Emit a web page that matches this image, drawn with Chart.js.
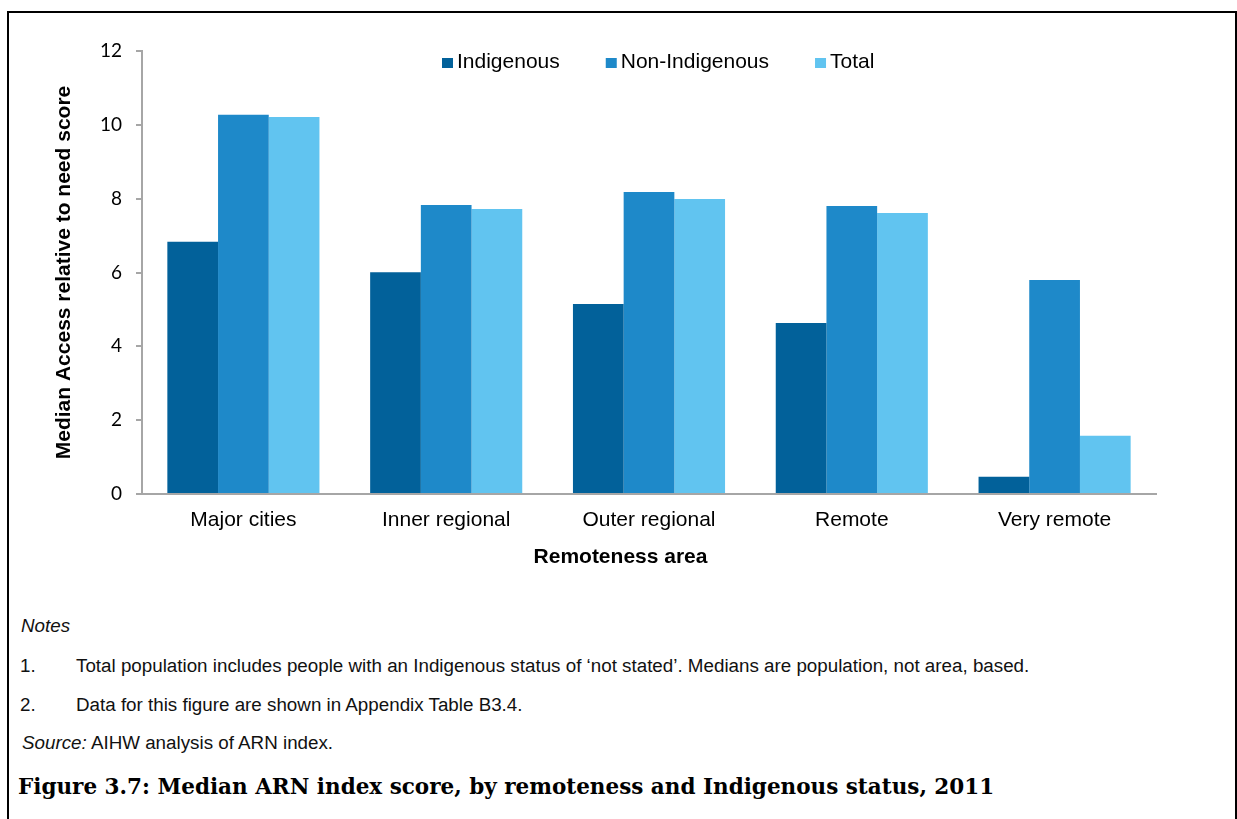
<!DOCTYPE html>
<html>
<head>
<meta charset="utf-8">
<script src="https://cdn.jsdelivr.net/npm/chart.js"></script>
<style>
  html, body { margin: 0; padding: 0; background: #fff; overflow: hidden; }
  #frame { position: absolute; left: 7px; top: 11px; width: 1226px; height: 900px;
           border: 2px solid #000; border-bottom: none; }
  #wrap { position: absolute; left: 0; top: 0; width: 1237px; height: 600px; }
  .note { position: absolute; font-family: "Liberation Sans", Arial, sans-serif; font-size: 18.8px; color: #111; white-space: nowrap; }
  .num { position: absolute; left: 20px; }
  .txt { position: absolute; left: 76px; }
  #caption { position: absolute; left: 18px; top: 774px; font-family: "DejaVu Serif", serif;
             font-weight: bold; font-size: 21.5px; color: #000; white-space: nowrap; }
</style>
</head>
<body>
<div id="frame"></div>
<div id="wrap"><canvas id="myChart" width="1237" height="600"></canvas></div>

<div class="note" style="left:21px; top:615px;"><i>Notes</i></div>
<div class="note" style="left:0; top:655px; width:1237px;"><span class="num">1.</span><span class="txt">Total population includes people with an Indigenous status of ‘not stated’. Medians are population, not area, based.</span></div>
<div class="note" style="left:0; top:694px; width:1237px;"><span class="num">2.</span><span class="txt">Data for this figure are shown in Appendix Table B3.4.</span></div>
<div class="note" style="left:22px; top:732px;"><i>Source:</i> AIHW analysis of ARN index.</div>
<div id="caption">Figure 3.7: Median ARN index score, by remoteness and Indigenous status, 2011</div>

<script>
var areas = ["Major cities", "Inner regional", "Outer regional", "Remote", "Very remote"]
var indigenous = [6.83, 6.01, 5.15, 4.63, 0.47]
var nonIndigenous = [10.27, 7.83, 8.18, 7.80, 5.80]
var total = [10.21, 7.72, 7.99, 7.61, 1.58]
var seriesNames = ["Indigenous", "Non-Indigenous", "Total"]
var barColor = ["#02619a", "#1e89c9", "#61c4f0"]
var yTicks = [0, 2, 4, 6, 8, 10, 12]

var sans = '"Liberation Sans", Arial, sans-serif'
var axisGrey = "#a6a6a6"

// legend sits inside the plot area and the x title is centred on the whole figure,
// so both are drawn here instead of with the built-in boxes
var overlay = {
  id: "overlay",
  afterDraw: function(chart) {
    var ctx = chart.ctx
    ctx.save()
    ctx.font = "21px " + sans
    ctx.textBaseline = "middle"
    ctx.textAlign = "left"
    var x = 442, y = 63
    chart.data.datasets.forEach(function(ds) {
      ctx.fillStyle = ds.backgroundColor
      ctx.fillRect(x, y - 5, 11, 10)
      ctx.fillStyle = "#000"
      ctx.fillText(ds.label, x + 15, y - 1)
      x += 15 + ctx.measureText(ds.label).width + 46
    })
    ctx.font = "bold 21px " + sans
    ctx.textAlign = "center"
    ctx.fillText("Remoteness area", chart.width / 2 + 2, 557)
    ctx.restore()
  }
}

new Chart("myChart", {
  type: "bar",
  data: {
    labels: areas,
    datasets: [
      {label: seriesNames[0], data: indigenous, backgroundColor: barColor[0]},
      {label: seriesNames[1], data: nonIndigenous, backgroundColor: barColor[1]},
      {label: seriesNames[2], data: total, backgroundColor: barColor[2]}
    ]
  },
  options: {
    responsive: false,
    animation: false,
    layout: {padding: {left: 0, right: 81, top: 51, bottom: 0}},
    datasets: {bar: {categoryPercentage: 0.75, barPercentage: 1.0, borderWidth: 0}},
    plugins: {
      legend: {display: false},
      tooltip: {enabled: false}
    },
    scales: {
      x: {
        grid: {display: false, drawTicks: false},
        border: {display: true, color: axisGrey, width: 2},
        ticks: {color: "#000", font: {family: sans, size: 21}, padding: 14, maxRotation: 0},
        afterFit: function(scale) { scale.height = 106 }
      },
      y: {
        min: 0,
        max: 12,
        afterBuildTicks: function(scale) { scale.ticks = yTicks.map(function(v) { return {value: v} }) },
        grid: {drawOnChartArea: false, drawTicks: true, tickLength: 6, color: axisGrey, lineWidth: 2},
        border: {display: true, color: axisGrey, width: 2},
        ticks: {color: "#000", font: {family: "Lato, sans-serif", size: 19}, padding: 14},
        title: {
          display: true,
          text: "Median Access relative to need score",
          color: "#000",
          font: {family: sans, size: 21, weight: "bold"},
          padding: {top: 52, bottom: 0}
        },
        afterFit: function(scale) { scale.width = 142 }
      }
    }
  },
  plugins: [overlay]
})
</script>
</body>
</html>
